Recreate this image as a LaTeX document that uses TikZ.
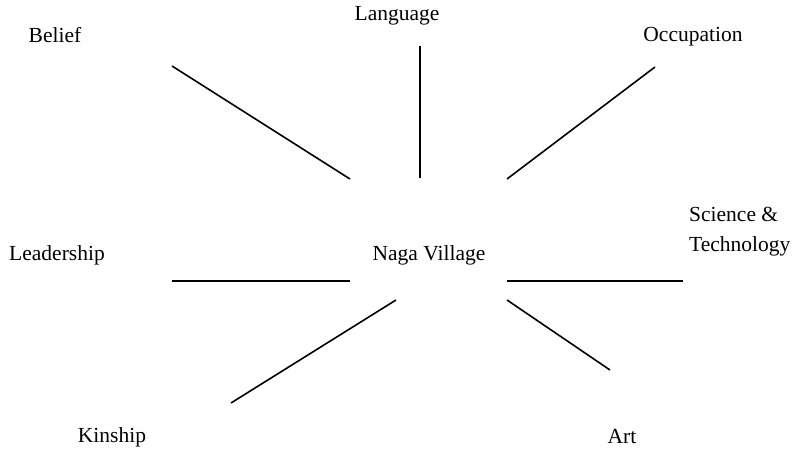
\documentclass[tikz,border=0pt]{standalone}
\usepackage{fontspec}
\setmainfont{Liberation Serif}
\usepackage{tikz}
\usetikzlibrary{positioning, calc}
\tikzset{
  topic/.style={inner sep=0pt, font=\fontsize{21.5}{30}\selectfont, align=left},
  spoke/.style={line width=1.6pt, black},
}

\begin{document}
\begin{tikzpicture}[x=1pt, y=-1pt]
  \useasboundingbox (0,0) rectangle (792,452);
  % labels
  \node[topic] (village) at (429,255) {Naga Village};
  \node[topic] (belief) at (55,35) {Belief};
  \node[topic] (lang) at (397,16) {Language};
  \node[topic] (occ) at (693,37) {Occupation};
  \node[topic] (lead) at (57,255) {Leadership};
  \node[topic, anchor=west] (sci) at (689,232) {Science \&\\Technology};
  \node[topic] (kin) at (112,437) {Kinship};
  \node[topic] (art) at (622,437) {Art};
  % spoke ends
  \coordinate (b1) at (172,66);  \coordinate (b2) at (350,179);
  \coordinate (l1) at (420,46);  \coordinate (l2) at (420,178);
  \coordinate (o1) at (655,67);  \coordinate (o2) at (507,179);
  \coordinate (d1) at (172,281); \coordinate (d2) at (350,281);
  \coordinate (s1) at (507,281); \coordinate (s2) at (683,281);
  \coordinate (k1) at (396,300); \coordinate (k2) at (231,403);
  \coordinate (a1) at (507,300); \coordinate (a2) at (610,370);
  \draw[spoke] (b1)--(b2);
  \draw[spoke] (l1)--(l2);
  \draw[spoke] (o1)--(o2);
  \draw[spoke] (d1)--(d2);
  \draw[spoke] (s1)--(s2);
  \draw[spoke] (k1)--(k2);
  \draw[spoke] (a1)--(a2);
\end{tikzpicture}
\end{document}
